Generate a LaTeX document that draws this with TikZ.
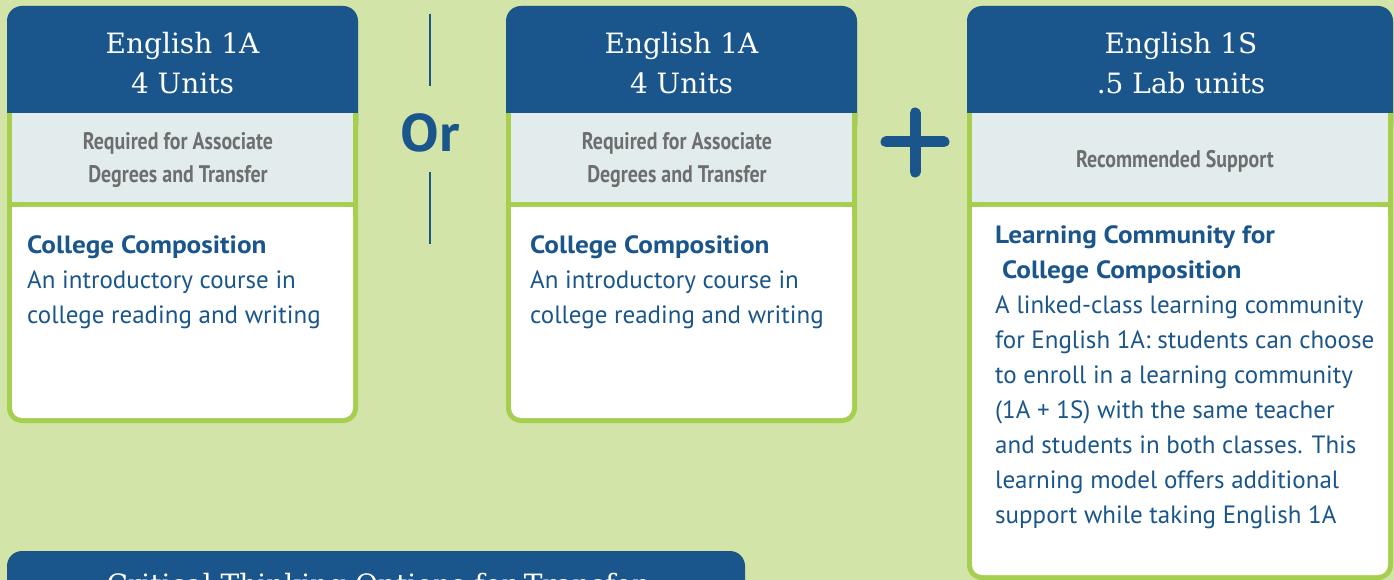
\documentclass[tikz,border=0pt]{standalone}
\usepackage{fontspec}
\setmainfont{PT Sans}[BoldFeatures={FakeStretch=1.09}]
\newfontfamily\slabfont{DejaVu Serif}
\newfontfamily\condfont[FakeStretch=0.83]{PT Sans}
\definecolor{bgc}{HTML}{D3E4A9}
\definecolor{hdrc}{HTML}{1A568B}
\definecolor{grnc}{HTML}{A6CF50}
\definecolor{bandc}{HTML}{E3ECEC}
\definecolor{grayc}{HTML}{6D6E70}
\tikzset{
  titletext/.style={text=white, inner sep=0pt, anchor=base, font=\slabfont\fontsize{28}{40}\selectfont},
  bandtext/.style={text=grayc, inner sep=0pt, anchor=base, font=\condfont\bfseries\fontsize{24}{33}\selectfont},
  bodytext/.style={text=hdrc, inner sep=0pt, anchor=north west, align=left, font=\fontsize{25}{35}\selectfont},
}
\newcommand\cardshape[3]{% left, right, bottom
  \fill[grnc, rounded corners=15pt] (#1,6) rectangle (#2,#3);
  \fill[hdrc, rounded corners=15pt] (#1,6) rectangle (#2,140);
  \fill[grnc] (#1,113) rectangle (#2,150);
  \fill[bandc] ({#1+5},113) rectangle ({#2-5},202);
  \fill[white, rounded corners=10pt] ({#1+5},207) rectangle ({#2-5},{#3-5});
  \fill[white] ({#1+5},207) rectangle ({#2-5},240);
}
\begin{document}
\begin{tikzpicture}[x=1pt,y=-1pt]
\fill[bgc] (0,0) rectangle (1394,580);
\useasboundingbox (0,0) rectangle (1394,580);

% card 1
\cardshape{7}{358}{423}
\node[titletext] (t1a) at (182.5,54) {English 1A};
\node[titletext] (t1b) at (182.5,94) {4 Units};
\node[bandtext] (b1a) at (178,150) {Required for Associate};
\node[bandtext] (b1b) at (178,183) {Degrees and Transfer};
\node[bodytext] (d1) at (27,{253-24.5}) {\strut\textbf{College Composition}\\An introductory course in\\college reading and writing};

% Or separator
\draw[hdrc, line width=1.2pt] (430,14) coordinate (or1) -- (430,86) coordinate (or2);
\draw[hdrc, line width=1.2pt] (430,172) coordinate (or3) -- (430,244) coordinate (or4);
\node[text=hdrc, inner sep=0pt, anchor=base, font=\bfseries\fontsize{53}{53}\selectfont] (or) at (430,152) {Or};

% card 2
\cardshape{506}{857}{423}
\node[titletext] (t2a) at (681.5,54) {English 1A};
\node[titletext] (t2b) at (681.5,94) {4 Units};
\node[bandtext] (b2a) at (677,150) {Required for Associate};
\node[bandtext] (b2b) at (677,183) {Degrees and Transfer};
\node[bodytext] (d2) at (530,{253-24.5}) {\strut\textbf{College Composition}\\An introductory course in\\college reading and writing};

% plus
\draw[hdrc, line width=11pt, line cap=round] (886,142) coordinate (p1) -- (944,142) coordinate (p2);
\draw[hdrc, line width=11pt, line cap=round] (915,113) coordinate (p3) -- (915,172) coordinate (p4);

% card 3
\cardshape{967}{1393}{580}
\node[titletext] (t3a) at (1181,54) {English 1S};
\node[titletext] (t3b) at (1181,94) {.5 Lab units};
\node[bandtext] (b3a) at (1175,168) {Recommended Support};
\node[bodytext] (d3) at (995,{243-24.5}) {\strut\textbf{Learning Community for}\\\textbf{\ College Composition}\\A linked-class learning community\\for English 1A: students can choose\\to enroll in a learning community\\(1A + 1S) with the same teacher\\and students in both classes. This\\learning model offers additional\\support while taking English 1A};

% bottom tab
\fill[hdrc, rounded corners=15pt] (7,551) rectangle (745,640);
\node[titletext] (t4) at (376,594) {Critical Thinking Options for Transfer};
\end{tikzpicture}
\end{document}
